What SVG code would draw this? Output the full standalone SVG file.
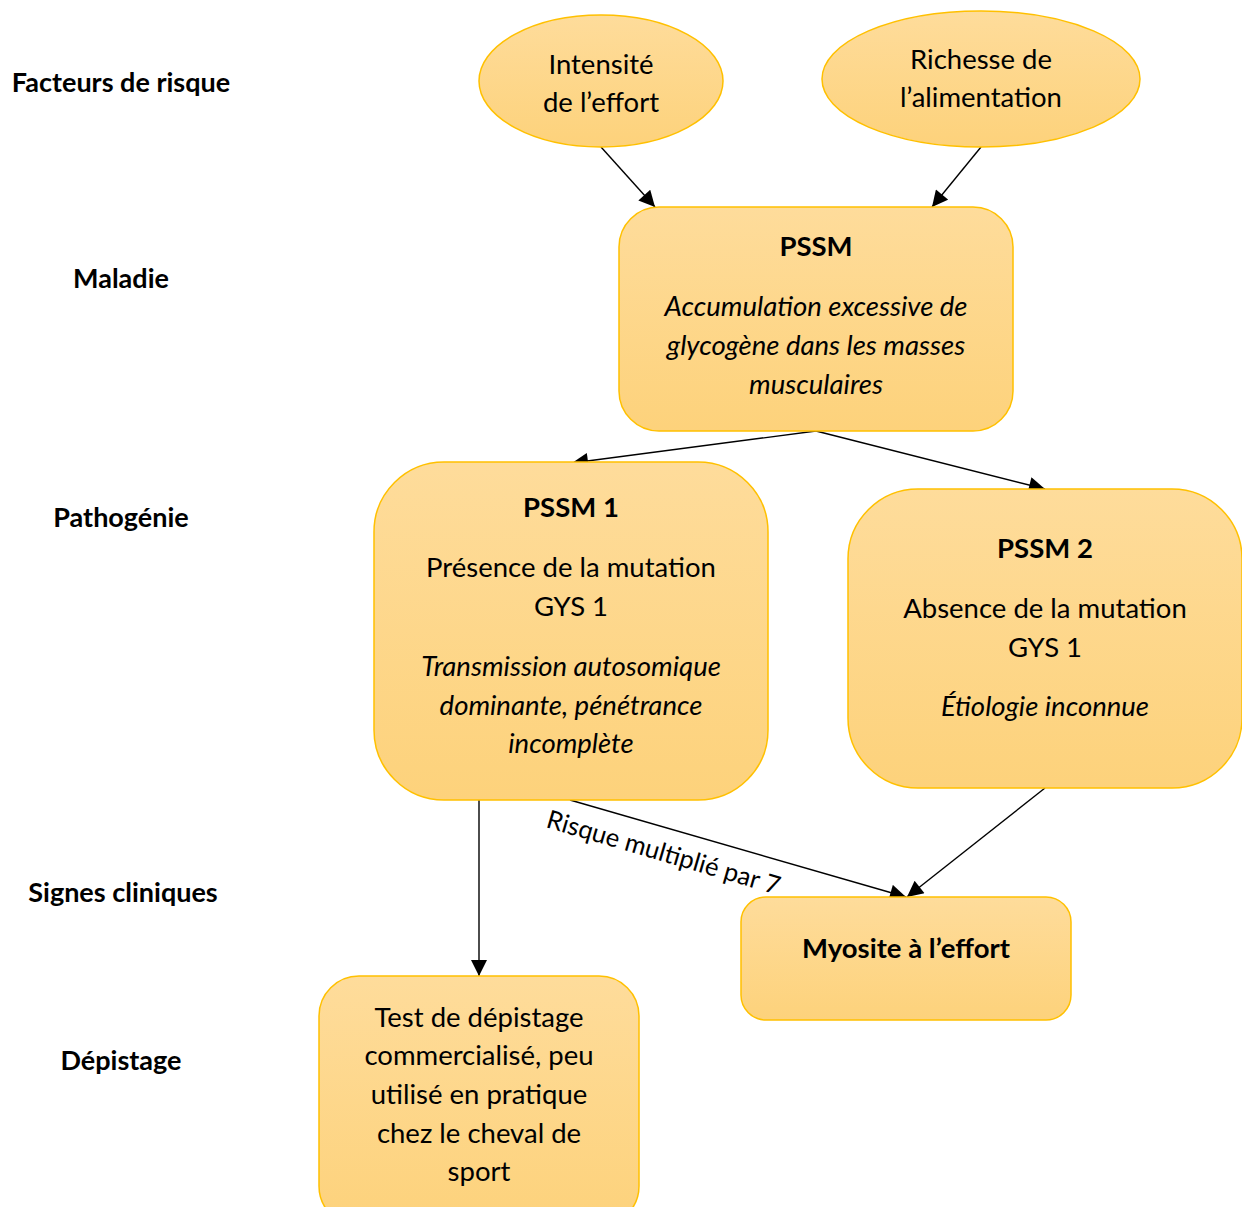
<svg xmlns="http://www.w3.org/2000/svg" width="1242" height="1207" viewBox="0 0 1242 1207">
<defs>
<linearGradient id="g" x1="0" y1="0" x2="0" y2="1">
<stop offset="0" stop-color="#FEDC9B"/>
<stop offset="1" stop-color="#FDD27B"/>
</linearGradient>
<marker id="ab" viewBox="0 0 10 10" refX="10" refY="5" markerWidth="18" markerHeight="16" markerUnits="userSpaceOnUse" orient="auto">
<path d="M0,0 L10,5 L0,10 z" fill="#000"/>
</marker>
</defs>
<style>
.n{fill:url(#g);stroke:#FFC000;stroke-width:1.5}
.t{font-family:Lato,"Liberation Sans",sans-serif;font-size:27.5px;fill:#000;text-anchor:middle}
.i{font-style:italic}
.b{font-weight:bold}
.l{font-family:Lato,"Liberation Sans",sans-serif;font-size:27px;font-weight:bold;fill:#000;text-anchor:middle}
.r{font-family:Lato,"Liberation Sans",sans-serif;font-size:25.5px;fill:#000}
.c{stroke:#000;stroke-width:1.4;fill:none;marker-end:url(#ab)}
</style>
<rect width="1242" height="1207" fill="#fff"/>
<g id="labels">
<text class="l" x="121" y="92">Facteurs de risque</text>
<text class="l" x="121" y="288">Maladie</text>
<text class="l" x="121" y="527">Pathogénie</text>
<text class="l" x="123" y="902">Signes cliniques</text>
<text class="l" x="121" y="1070">Dépistage</text>
</g>
<g id="connectors">
<line class="c" x1="601" y1="147" x2="655" y2="207"/>
<line class="c" x1="981" y1="147" x2="932" y2="207"/>
<line class="c" x1="816" y1="431" x2="572" y2="463"/>
<line class="c" x1="816" y1="431" x2="1045" y2="489"/>
<line class="c" x1="479" y1="800" x2="479" y2="976"/>
<line class="c" x1="570" y1="800" x2="906" y2="897"/>
<line class="c" x1="1045" y1="788" x2="907" y2="897"/>
<text class="r" transform="translate(545,827) rotate(16.3)">Risque multiplié par 7</text>
</g>
<g id="n-intensite">
<ellipse class="n" cx="601" cy="81" rx="122" ry="66"/>
<text class="t" x="601" y="74">Intensité</text>
<text class="t" x="601" y="112">de l’effort</text>
</g>
<g id="n-richesse">
<ellipse class="n" cx="981" cy="79" rx="159" ry="68"/>
<text class="t" x="981" y="69">Richesse de</text>
<text class="t" x="981" y="107">l’alimentation</text>
</g>
<g id="n-pssm">
<rect class="n" x="619" y="207" width="394" height="224" rx="40"/>
<text class="t b" x="816" y="256">PSSM</text>
<text class="t i" x="816" y="316">Accumulation excessive de</text>
<text class="t i" x="816" y="355">glycogène dans les masses</text>
<text class="t i" x="816" y="394">musculaires</text>
</g>
<g id="n-pssm1">
<rect class="n" x="374" y="462" width="394" height="338" rx="70"/>
<text class="t b" x="571" y="517">PSSM 1</text>
<text class="t" x="571" y="577">Présence de la mutation</text>
<text class="t" x="571" y="616">GYS 1</text>
<text class="t i" x="571" y="676">Transmission autosomique</text>
<text class="t i" x="571" y="715">dominante, pénétrance</text>
<text class="t i" x="571" y="753">incomplète</text>
</g>
<g id="n-pssm2">
<rect class="n" x="848" y="489" width="394" height="299" rx="70"/>
<text class="t b" x="1045" y="558">PSSM 2</text>
<text class="t" x="1045" y="618">Absence de la mutation</text>
<text class="t" x="1045" y="657">GYS 1</text>
<text class="t i" x="1045" y="716">Étiologie inconnue</text>
</g>
<g id="n-myosite">
<rect class="n" x="741" y="897" width="330" height="123" rx="25"/>
<text class="t b" x="906" y="958">Myosite à l’effort</text>
</g>
<g id="n-test">
<rect class="n" x="319" y="976" width="320" height="250" rx="40"/>
<text class="t" x="479" y="1027">Test de dépistage</text>
<text class="t" x="479" y="1065">commercialisé, peu</text>
<text class="t" x="479" y="1104">utilisé en pratique</text>
<text class="t" x="479" y="1143">chez le cheval de</text>
<text class="t" x="479" y="1181">sport</text>
</g>
</svg>
